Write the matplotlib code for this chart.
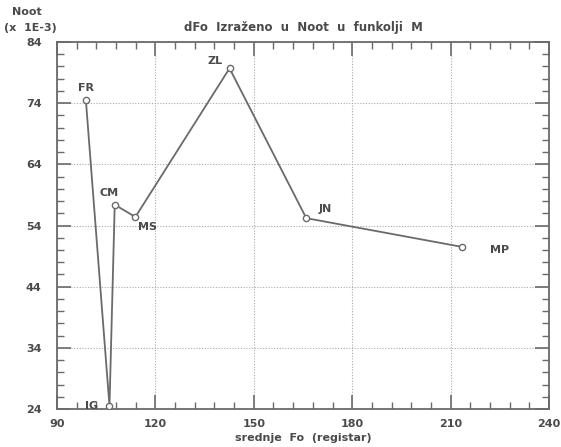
import matplotlib
matplotlib.use("Agg")
import matplotlib.pyplot as plt
from matplotlib.ticker import MultipleLocator

labels = ["FR", "IG", "CM", "MS", "ZL", "JN", "MP"]
fo = [98.8, 106.0, 107.6, 113.9, 142.6, 166.0, 213.5]
noot = [74.5, 24.5, 57.4, 55.4, 79.7, 55.2, 50.5]

xticks = [90, 120, 150, 180, 210, 240]
yticks = [24, 34, 44, 54, 64, 74, 84]

label_offsets = {
    "FR": (0, 5, "center", "bottom"),
    "IG": (-8, 0, "right", "center"),
    "CM": (-4, 5, "center", "bottom"),
    "MS": (2, -4, "left", "top"),
    "ZL": (-5, 2, "right", "bottom"),
    "JN": (9, 3, "left", "bottom"),
    "MP": (20, -2, "left", "center"),
}

txt_color = "#4a4a4a"
fig = plt.figure(figsize=(5.61, 4.47), dpi=100)
ax = fig.add_axes([57/561, 1-409/447, (549-57)/561, (409-42)/447])

ax.plot(fo, noot, color="#6a6a6a", lw=1.3, marker="o", ms=4.5,
        mfc="white", mec="#6a6a6a", mew=1.0, zorder=3)

for lab, x, y in zip(labels, fo, noot):
    dx, dy, ha, va = label_offsets[lab]
    ax.annotate(lab, (x, y), xytext=(dx, dy), textcoords="offset points",
                ha=ha, va=va, fontsize=8, fontweight="bold", color=txt_color)

ax.set_xlim(90, 240)
ax.set_ylim(24, 84)
ax.set_xticks(xticks)
ax.set_yticks(yticks)
ax.xaxis.set_minor_locator(MultipleLocator(6))
ax.yaxis.set_minor_locator(MultipleLocator(2))
ax.tick_params(which="both", direction="in", top=True, right=True,
               colors="#6a6a6a", labelcolor=txt_color, labelsize=8)
ax.tick_params(which="major", length=10, width=1.2)
ax.tick_params(which="minor", length=5, width=1.0)
ax.tick_params(axis="y", which="major", pad=11)
ax.tick_params(axis="x", which="major", pad=7)
for lbl in ax.get_xticklabels() + ax.get_yticklabels():
    lbl.set_fontweight("bold")
ax.grid(True, which="major", color="#aaaaaa", linestyle=(0, (1, 1.5)), lw=0.8)
for s in ax.spines.values():
    s.set_color("#6a6a6a")
    s.set_linewidth(1.3)

ax.set_xlabel("srednje  Fo  (registar)", fontsize=8, fontweight="bold",
              color=txt_color, labelpad=3)
ax.set_title("dFo  Izraženo  u  Noot  u  funkolji  M", fontsize=8.5,
             fontweight="bold", color=txt_color, pad=8)
fig.text(12/561, 1-12/447, "Noot", fontsize=8, fontweight="bold",
         color=txt_color, ha="left", va="center")
fig.text(4/561, 1-28/447, "(x  1E-3)", fontsize=8, fontweight="bold",
         color=txt_color, ha="left", va="center")

fig.savefig("out.png", dpi=100)
